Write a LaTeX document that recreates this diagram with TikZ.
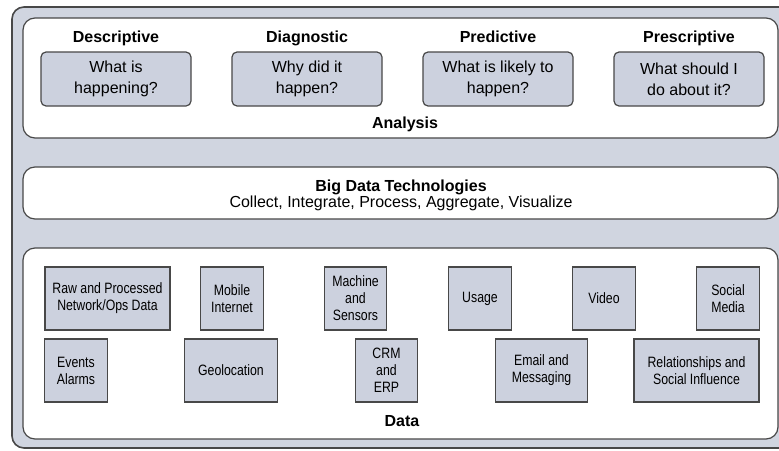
\documentclass[tikz,border=0pt]{standalone}
\usepackage{fontspec}
\setmainfont{Liberation Sans}
\newfontfamily\narrowsf[FakeStretch=0.82]{Liberation Sans}
\definecolor{panelbg}{RGB}{208,213,224}
\definecolor{boxfill}{RGB}{204,209,222}
\definecolor{edge}{RGB}{72,72,72}

\begin{document}
\begin{tikzpicture}[x=1pt, y=-1pt,
    panel/.style={draw=edge, line width=1.2pt, rounded corners=12pt, fill=white},
    qbox/.style={draw=edge, line width=1.2pt, rounded corners=5pt, fill=boxfill, minimum width=150pt, minimum height=54pt, align=center, inner sep=0pt, font=\fontsize{16}{21}\selectfont},
    hd/.style={font=\fontsize{16}{20}\selectfont\bfseries, anchor=base},
    txt/.style={font=\fontsize{16}{20}\selectfont, anchor=base},
    dbox/.style={draw=edge, line width=1.2pt, fill=boxfill, minimum width=62.5pt, minimum height=63pt, align=center, inner sep=0pt, font=\narrowsf\fontsize{15}{17}\selectfont},
    wide/.style={minimum width=92.5pt},
    wider/.style={minimum width=125pt}]
    \useasboundingbox (0,0) rectangle (779,450);
    \clip (0,0) rectangle (779,450);
    % frame and panels
    \draw[fill=panelbg, draw=edge, line width=1.6pt, rounded corners=12pt] (12,7) rectangle (792,448);
    \draw[panel] (23,18) rectangle (778,138);
    \draw[panel] (23,167) rectangle (778,219);
    \draw[panel] (23,248) rectangle (778,439);
    % analysis
    \node[hd] (hdesc) at (116,42) {Descriptive};
    \node[hd] (hdiag) at (307,42) {Diagnostic};
    \node[hd] (hpred) at (498,42) {Predictive};
    \node[hd] (hpres) at (689,42) {Prescriptive};
    \node[qbox] (desc) at (116,79) {What is\\happening?};
    \node[qbox] (diag) at (307,79) {Why did it\\happen?};
    \node[qbox] (pred) at (498,79) {What is likely to\\happen?};
    \node[qbox] (pres) at (689,79) {What should I\\do about it?};
    \node[hd] (analysis) at (405,128) {Analysis};
    % technologies
    \node[hd] (bigdata) at (401,191) {Big Data Technologies};
    \node[txt] (steps) at (401,207) {Collect, Integrate, Process, Aggregate, Visualize};
    % data sources, upper row
    \node[dbox, wider] (raw) at (107.5,298.5) {Raw and Processed\\Network/Ops Data};
    \node[dbox] (mobile) at (232,298.5) {Mobile\\Internet};
    \node[dbox] (machine) at (355.5,298.5) {Machine\\and\\Sensors};
    \node[dbox] (usage) at (480,298.5) {Usage};
    \node[dbox] (video) at (604,298.5) {Video};
    \node[dbox] (social) at (728,298.5) {Social\\Media};
    % data sources, lower row
    \node[dbox] (events) at (76,370.5) {Events\\Alarms};
    \node[dbox, wide] (geo) at (231,370.5) {Geolocation};
    \node[dbox] (crm) at (386.5,370.5) {CRM\\and\\ERP};
    \node[dbox, wide] (email) at (541.5,370.5) {Email and\\Messaging};
    \node[dbox, wider] (rel) at (696.5,370.5) {Relationships and\\Social Influence};
    \node[hd] (data) at (402,426) {Data};
\end{tikzpicture}
\end{document}
